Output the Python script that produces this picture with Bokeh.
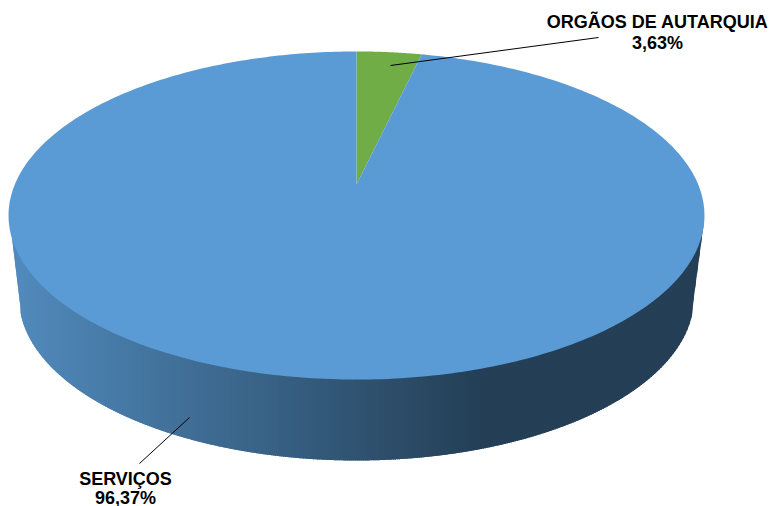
import numpy as np
from bokeh.plotting import figure
from bokeh.models import Range1d
from bokeh.core.properties import value
from bokeh.embed import file_html
from bokeh.resources import INLINE

categories = ["ORGÃOS DE AUTARQUIA", "SERVIÇOS"]
values = [3.63, 96.37]
pct_labels = ["3,63%", "96,37%"]
colors = ["#70AD47", "#5B9BD5"]

W, H = 772, 506
p = figure(width=W, height=H, output_backend="svg", toolbar_location=None,
           x_range=Range1d(0, W), y_range=Range1d(H, 0),
           min_border=0, outline_line_color=None)
p.axis.visible = False
p.grid.visible = False
p.background_fill_color = None
p.border_fill_color = None

# perspective projection of the pie disc
CX, CY = 356.0, 184.0
K = 0.189
A, B = 341.7, 158.2


def project(theta):
    u, v = np.sin(theta), np.cos(theta)
    w = 1 + K * v
    return CX + A * u / w, CY - B * v / w


# side wall: vertical strips, darkening to the right
BCX, BCY, BRX, BRY = 356.0, 297.0, 337.5, 163.0


def lower_edge(x):
    x = np.asarray(x, dtype=float)
    d = np.clip(np.abs(x - BCX) / BRX, 0, 1)
    y = BCY + BRY * np.sqrt(1 - d ** 2)
    yl = 225 + (x - 10) * (307 - 225) / 10
    yr = 225 + (703 - x) * (307 - 225) / 11
    y = np.where(x < 20, yl, y)
    y = np.where(x > 692, yr, y)
    return y


c0 = np.array([0x50, 0x89, 0xBB], float)
c1 = np.array([0x24, 0x3F, 0x56], float)
sx, sy, sc = [], [], []
edges = np.arange(10, 704, 2.0)
for a, b in zip(edges[:-1], edges[1:]):
    xs = np.linspace(a, b + 1.5, 5)
    sx.append(list(xs) + [b + 1.5, a])
    sy.append(list(lower_edge(xs)) + [215, 215])
    t = min(max((a - 20) / (480 - 20), 0), 1)
    col = c0 + (c1 - c0) * t
    sc.append("#%02x%02x%02x" % tuple(int(round(q)) for q in col))
p.patches(sx, sy, fill_color=sc, line_color=None)

# top face: slices from the values
total = sum(values)
start = 0.0
for val, col in zip(values, colors):
    sweep = 2 * np.pi * val / total
    th = np.linspace(start, start + sweep, 400)
    x, y = project(th)
    p.patch(list(x) + [CX], list(y) + [CY], fill_color=col, line_color=None)
    start += sweep

# leader lines
p.line([390, 598], [65, 37], line_color="#000000", line_width=1)
p.line([189, 139], [417, 463], line_color="#000000", line_width=1)

# labels
tx = [657, 125]
for cat, pct, x0, y0, y1 in zip(categories, pct_labels, tx, [21, 478], [42, 497]):
    p.text([x0, x0], [y0, y1], text=[cat, pct], text_align="center",
           text_baseline="middle", text_font=value("Liberation Sans"),
           text_font_style="bold", text_font_size="18px", text_color="#000000")

open("out.html", "w").write(file_html(p, INLINE))
